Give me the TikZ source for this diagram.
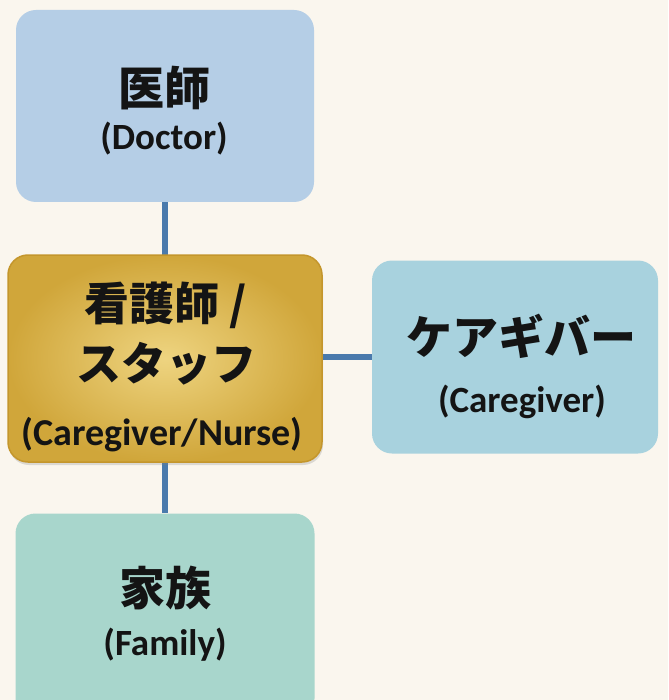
\documentclass[tikz,border=0pt]{standalone}
\usepackage{fontspec}
\setmainfont{Carlito}
\newfontfamily\cjk{Noto Sans CJK JP}
\usetikzlibrary{shadows}
\definecolor{bgc}{RGB}{250,246,238}
\definecolor{docblue}{RGB}{181,206,230}
\definecolor{careblue}{RGB}{168,210,222}
\definecolor{famgreen}{RGB}{168,214,204}
\definecolor{conncol}{RGB}{74,122,172}
\definecolor{goldlight}{RGB}{238,212,128}
\definecolor{golddark}{RGB}{208,166,58}
\definecolor{goldedge}{RGB}{196,150,44}
\definecolor{txt}{RGB}{20,20,20}
\begin{document}
\begin{tikzpicture}[x=1pt,y=-1pt,
  box/.style={rounded corners=20pt, draw=none, inner sep=0pt, minimum width=298pt, minimum height=192pt},
  jp/.style={font=\cjk\bfseries\fontsize{46}{50}\selectfont, text=txt, inner sep=0pt},
  jpc/.style={font=\cjk\bfseries\fontsize{45}{50}\selectfont, text=txt, inner sep=0pt},
  en/.style={font=\bfseries\fontsize{37}{40}\selectfont, text=txt, inner sep=0pt},
  enc/.style={font=\bfseries\fontsize{38}{40}\selectfont, text=txt, inner sep=0pt},
  conn/.style={draw=conncol, line width=6.5pt}]
\fill[bgc] (0,0) rectangle (668,700);
\useasboundingbox (0,0) rectangle (668,700);
\clip (0,0) rectangle (668,700);
% boxes
\node[box, fill=docblue] (doc) at (165,106) {};
\node[box, fill=careblue, minimum width=286pt, minimum height=193pt] (care) at (515,357) {};
\node[box, fill=famgreen, minimum width=299pt, minimum height=205pt] (fam) at (165,616) {};
% connectors
\draw[conn] (doc.south) -- (165,258) coordinate (ntop);
\draw[conn] (165,462) coordinate (nbot) -- (fam.north);
\draw[conn] (322,357) coordinate (nright) -- (care.west);
\node[box, minimum width=314pt, minimum height=207pt, inner color=goldlight, outer color=golddark, draw=goldedge, line width=1.5pt, drop shadow={opacity=0.25, shadow xshift=1pt, shadow yshift=-3pt}] (nurse) at (165,358.5) {};
% texts
\node[jp] (docjp) at (164,88) {医師};
\node[en] (docen) at (164,139) {(Doctor)};
\node[jpc] (nursejp1) at (166,305) {看護師 /};
\node[jpc] (nursejp2) at (166,364) {スタッフ};
\node[enc] (nurseen) at (162,435) {(Caregiver/Nurse)};
\node[jp] (carejp) at (521,336) {ケアギバー};
\node[en] (careen) at (522,402) {(Caregiver)};
\node[jp] (famjp) at (165,588) {家族};
\node[en] (famen) at (165,645) {(Family)};
\end{tikzpicture}
\end{document}
